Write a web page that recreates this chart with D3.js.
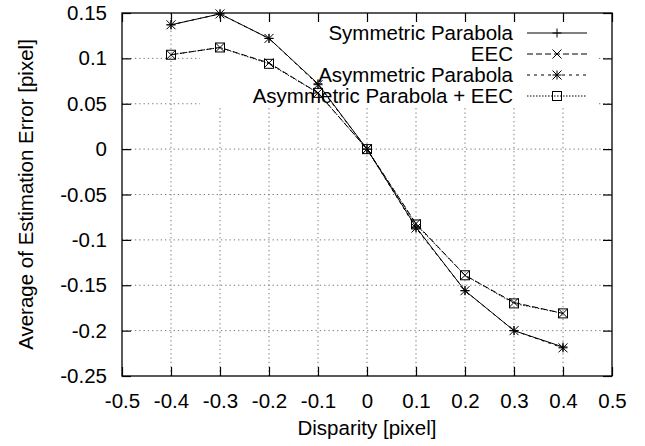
<!DOCTYPE html>
<html><head><meta charset="utf-8">
<script src="https://cdn.jsdelivr.net/npm/d3@7"></script>
<style>body{margin:0;background:#fff}svg{display:block}text{font-family:"Liberation Sans",Arial,sans-serif;fill:#000}</style>
</head><body><svg id="c" width="645" height="446"></svg>
<script>
const disparity = [-0.4,-0.3,-0.2,-0.1,0,0.1,0.2,0.3,0.4];
const symParabola = [0.137,0.149,0.122,0.072,0,-0.086,-0.156,-0.200,-0.218];
const eec = [0.104,0.112,0.095,0.062,0,-0.082,-0.139,-0.169,-0.181];
const asymParabola = [0.137,0.149,0.122,0.071,0,-0.087,-0.156,-0.200,-0.219];
const asymEec = [0.104,0.112,0.094,0.062,0,-0.083,-0.139,-0.170,-0.181];
const xTicks = [-0.5,-0.4,-0.3,-0.2,-0.1,0,0.1,0.2,0.3,0.4,0.5];
const yTicks = [0.15,0.1,0.05,0,-0.05,-0.1,-0.15,-0.2,-0.25];
const seriesNames = ["Symmetric Parabola","EEC","Asymmetric Parabola","Asymmetric Parabola + EEC"];

const series = [
  {name:seriesNames[0], vals:symParabola, dash:null, marker:"plus"},
  {name:seriesNames[1], vals:eec, dash:"6,3", marker:"cross"},
  {name:seriesNames[2], vals:asymParabola, dash:"3,4", marker:"star"},
  {name:seriesNames[3], vals:asymEec, dash:"1.5,1.5", marker:"square"}
];

const L=122,R=612,T=13,B=376;
const svg=d3.select("#c");
const x=d3.scaleLinear().domain([-0.5,0.5]).range([L,R]);
const y=d3.scaleLinear().domain([-0.25,0.15]).range([B,T]);
const fs=20.5;

const key={x0:200,x1:599,y1:107};

const grid=svg.append("g").attr("stroke","#777").attr("stroke-width",1).attr("stroke-dasharray","1.3,3");
xTicks.slice(1,-1).forEach(t=>{
  const px=x(t);
  const y0 = (px>key.x0 && px<key.x1)? key.y1 : T;
  grid.append("line").attr("x1",px).attr("x2",px).attr("y1",B).attr("y2",y0);
});
yTicks.slice(1,-1).forEach(t=>{
  const py=y(t);
  if(py<key.y1){
    grid.append("line").attr("x1",L).attr("x2",key.x0).attr("y1",py).attr("y2",py);
    grid.append("line").attr("x1",key.x1).attr("x2",R).attr("y1",py).attr("y2",py);
  } else {
    grid.append("line").attr("x1",L).attr("x2",R).attr("y1",py).attr("y2",py);
  }
});

const tl=9;
const fmt=d=>String(+(+d).toFixed(2));
const gx=svg.append("g").attr("transform",`translate(0,${B})`)
  .call(d3.axisBottom(x).tickValues(xTicks).tickSizeInner(-tl).tickSizeOuter(0).tickPadding(17).tickFormat(fmt));
const gxt=svg.append("g").attr("transform",`translate(0,${T})`)
  .call(d3.axisTop(x).tickValues(xTicks).tickSizeInner(-tl).tickSizeOuter(0).tickFormat(""));
const gy=svg.append("g").attr("transform",`translate(${L},0)`)
  .call(d3.axisLeft(y).tickValues(yTicks).tickSizeInner(-tl).tickSizeOuter(0).tickPadding(15).tickFormat(fmt));
const gyr=svg.append("g").attr("transform",`translate(${R},0)`)
  .call(d3.axisRight(y).tickValues(yTicks).tickSizeInner(-tl).tickSizeOuter(0).tickFormat(""));
[gx,gxt,gy,gyr].forEach(g=>{
  g.select(".domain").remove();
  g.selectAll("line").attr("stroke","#000").attr("stroke-width",1.2);
  g.selectAll("text").attr("font-size",fs).attr("font-family","Liberation Sans, Arial, sans-serif").attr("fill","#000");
});
svg.append("rect").attr("x",L).attr("y",T).attr("width",R-L).attr("height",B-T)
  .attr("fill","none").attr("stroke","#000").attr("stroke-width",1.3);

svg.append("text").attr("x",(L+R)/2).attr("y",435).attr("text-anchor","middle").attr("font-size",fs).text("Disparity [pixel]");
svg.append("text").attr("transform",`translate(33,${(T+B)/2}) rotate(-90)`).attr("text-anchor","middle").attr("font-size",fs).text("Average of Estimation Error [pixel]");

function drawMarker(g,type,cx,cy){
  const s=4.5;
  const m=g.append("g").attr("stroke","#000").attr("stroke-width",1).attr("fill","none");
  if(type==="plus"||type==="star"){
    m.append("line").attr("x1",cx-s).attr("x2",cx+s).attr("y1",cy).attr("y2",cy);
    m.append("line").attr("x1",cx).attr("x2",cx).attr("y1",cy-s).attr("y2",cy+s);
  }
  if(type==="cross"||type==="star"){
    m.append("line").attr("x1",cx-s).attr("x2",cx+s).attr("y1",cy-s).attr("y2",cy+s);
    m.append("line").attr("x1",cx-s).attr("x2",cx+s).attr("y1",cy+s).attr("y2",cy-s);
  }
  if(type==="square"){
    m.append("rect").attr("x",cx-s).attr("y",cy-s).attr("width",2*s).attr("height",2*s);
  }
}

const keyTextX=513, keyLineX0=527, keyLineX1=587, keyMarkX=557;
const rowY=[33,54,75,96];
series.forEach((s,i)=>{
  svg.append("text").attr("x",keyTextX).attr("y",rowY[i]).attr("dy","0.35em").attr("text-anchor","end").attr("font-size",fs).text(s.name);
  svg.append("line").attr("x1",keyLineX0).attr("x2",keyLineX1).attr("y1",rowY[i]).attr("y2",rowY[i])
    .attr("stroke","#000").attr("stroke-width",1).attr("stroke-dasharray",s.dash);
  drawMarker(svg,s.marker,keyMarkX,rowY[i]);
});

const line=d3.line().x(d=>x(d[0])).y(d=>y(d[1]));
series.forEach(s=>{
  const pts=disparity.map((d,i)=>[d,s.vals[i]]);
  svg.append("path").attr("d",line(pts)).attr("fill","none").attr("stroke","#000").attr("stroke-width",1)
    .attr("stroke-dasharray",s.dash);
  const g=svg.append("g");
  pts.forEach(p=>drawMarker(g,s.marker,x(p[0]),y(p[1])));
});
</script></body></html>
